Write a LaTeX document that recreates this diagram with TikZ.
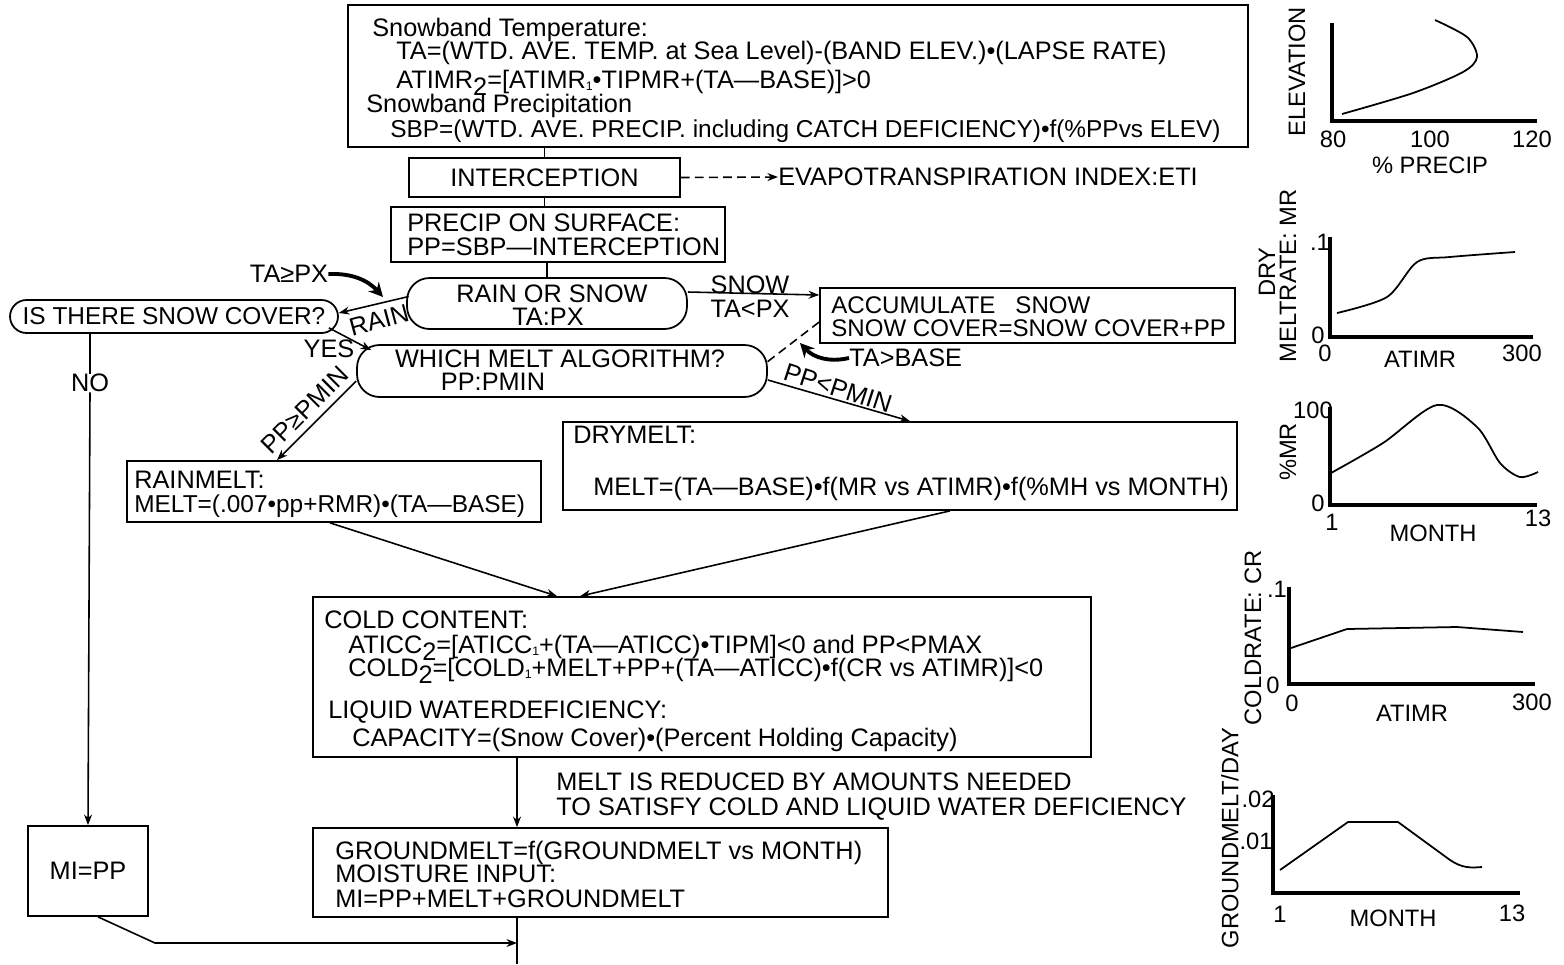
\documentclass[tikz,border=0pt]{standalone}
\usepackage{fontspec}
\setmainfont{Liberation Sans}
\usetikzlibrary{arrows.meta,calc}
\begin{document}
\begin{tikzpicture}[x=0.02cm,y=-0.02cm,
 font=\fontsize{14.4}{16}\selectfont,
 box/.style={draw,line width=1pt,inner sep=0pt},
 rbox/.style={box,rounded corners=0.45cm},
 txt/.style={anchor=base west,inner sep=0pt},
 ctxt/.style={anchor=base,inner sep=0pt},
 lbl/.style={inner sep=0pt},
 conn/.style={line width=0.9pt},
 arr/.style={conn,-{Stealth[length=6pt,width=4.5pt]}},
 fat/.style={line width=2.2pt,-{Stealth[length=8pt,width=8pt]}},
 axis/.style={line width=2.4pt},
 curve/.style={line width=1pt},
 lab/.style={inner sep=0pt,font=\fontsize{13.5}{15}\selectfont},
 smaller/.style={font=\fontsize{13.9}{16}\selectfont},
]
\useasboundingbox (0,0) rectangle (1564,964);

% ---------- boxes ----------
\node[box,minimum width=18cm,minimum height=2.84cm] (top) at (798,76) {};
\node[box,minimum width=5.42cm,minimum height=0.78cm] (int) at (544.5,177.5) {INTERCEPTION};
\node[box,minimum width=6.68cm,minimum height=1.1cm] (pr) at (558,234.5) {};
\node[rbox,minimum width=5.6cm,minimum height=1.02cm] (ros) at (547,303.5) {};
\node[rbox,smaller,rounded corners=0.33cm,minimum width=6.56cm,minimum height=0.66cm] (sc) at (174,316.5) {IS THERE SNOW COVER?};
\node[box,minimum width=8.3cm,minimum height=1.1cm] (acc) at (1027.5,315.5) {};
\node[rbox,minimum width=8.2cm,minimum height=1.04cm] (wm) at (562,371) {};
\node[box,minimum width=8.28cm,minimum height=1.22cm] (rm) at (334,491.5) {};
\node[box,minimum width=13.48cm,minimum height=1.76cm] (dm) at (900,466) {};
\node[box,minimum width=15.56cm,minimum height=3.2cm] (cold) at (702,677) {};
\node[box,minimum width=11.5cm,minimum height=1.78cm] (gm) at (600.5,872.5) {};
\node[box,minimum width=2.4cm,minimum height=1.8cm] (mi) at (88,871) {MI=PP};

% ---------- box texts ----------
\node[txt] (t1) at (372,36) {Snowband Temperature:};
\node[txt] (t2) at (396,59) {TA=(WTD. AVE. TEMP. at Sea Level)-(BAND ELEV.)•(LAPSE RATE)};
\node[txt] (t3) at (396,88) {ATIMR\raisebox{-0.55ex}{2}=[ATIMR\raisebox{-0.2ex}{\scriptsize 1}•TIPMR+(TA—BASE)]>0};
\node[txt] (t4) at (366,112) {Snowband Precipitation};
\node[txt,smaller] (t5) at (390,137) {SBP=(WTD. AVE. PRECIP. including CATCH DEFICIENCY)•f(\%PPvs ELEV)};

\node[anchor=west,inner sep=0pt] (eti) at (778,177) {EVAPOTRANSPIRATION INDEX:ETI};

\node[txt] (p1) at (407,231) {PRECIP ON SURFACE:};
\node[txt] (p2) at (407,255) {PP=SBP—INTERCEPTION};

\node[ctxt] (r1) at (552,302) {RAIN OR SNOW};
\node[ctxt] (r2) at (548,325) {TA:PX};

\node[txt,font=\fontsize{13.7}{16}\selectfont] (a1) at (831,313) {ACCUMULATE\ \ \ SNOW};
\node[txt,font=\fontsize{13.7}{16}\selectfont] (a2) at (831,336) {SNOW COVER=SNOW COVER+PP};

\node[ctxt] (w1) at (560,367) {WHICH MELT ALGORITHM?};
\node[ctxt] (w2) at (493,390) {PP:PMIN};

\node[txt] (rm1) at (134,488) {RAINMELT:};
\node[txt,smaller] (rm2) at (134,512) {MELT=(.007•pp+RMR)•(TA—BASE)};

\node[txt] (dm1) at (573,443) {DRYMELT:};
\node[txt] (dm2) at (593,495) {MELT=(TA—BASE)•f(MR vs ATIMR)•f(\%MH vs MONTH)};

\node[txt] (c1) at (324,628) {COLD CONTENT:};
\node[txt] (c2) at (348,653) {ATICC\raisebox{-0.55ex}{2}=[ATICC\raisebox{-0.2ex}{\scriptsize 1}+(TA—ATICC)•TIPM]<0 and PP<PMAX};
\node[txt] (c3) at (348,676) {COLD\raisebox{-0.55ex}{2}=[COLD\raisebox{-0.2ex}{\scriptsize 1}+MELT+PP+(TA—ATICC)•f(CR vs ATIMR)]<0};
\node[txt] (c4) at (328,718) {LIQUID WATERDEFICIENCY:};
\node[txt] (c5) at (352,746) {CAPACITY=(Snow Cover)•(Percent Holding Capacity)};

\node[txt] (n1) at (556,790) {MELT IS REDUCED BY AMOUNTS NEEDED};
\node[txt] (n2) at (556,815) {TO SATISFY COLD AND LIQUID WATER DEFICIENCY};

\node[txt] (g1) at (335,859) {GROUNDMELT=f(GROUNDMELT vs MONTH)};
\node[txt] (g2) at (335,882) {MOISTURE INPUT:};
\node[txt] (g3) at (335,907) {MI=PP+MELT+GROUNDMELT};

% ---------- connector labels ----------
\node[lbl] (snow) at (750,285) {SNOW};
\node[lbl] (talt) at (750,309) {TA<PX};
\node[lbl,rotate=15] (rain) at (379,320) {RAIN};
\node[lbl] (yes) at (329,349) {YES};
\node[lbl,rotate=45] (ppge) at (305,410) {PP≥PMIN};
\node[lbl,rotate=-18] (pplt) at (838,388) {PP<PMIN};
\node[lbl] (no) at (90,383) {NO};
\node[lbl] (tage) at (289,274) {TA≥PX};
\node[anchor=west,inner sep=0pt] (tab) at (849,358) {TA>BASE};

% ---------- helper coordinates ----------
\coordinate (vx) at (517,0);
\coordinate (bot) at (0,964);
\coordinate (mij) at (155,943);
\coordinate (tagetip) at (383,297);
\coordinate (tabtip) at (800,343);

% ---------- connectors ----------
\draw[conn] (int.north |- top.south) -- (int.north);
\draw[conn] (int.south) -- (int.south |- pr.north);
\draw[conn] (ros.north |- pr.south) -- (ros.north);
\draw[arr,dash pattern=on 5pt off 3pt] (int.east) -- (eti.west);
\draw[arr] ([yshift=0.23cm]ros.east) -- ([yshift=0.41cm]acc.west);
\draw[arr] ([xshift=0.05cm,yshift=0.14cm]ros.west) -- ([yshift=0.07cm]sc.east);
\draw[arr] ([xshift=-0.2cm,yshift=0.12cm]sc.south east) -- ([xshift=0.3cm,yshift=-0.12cm]wm.north west);
\draw[arr] ([yshift=-0.2cm]wm.west) -- ([xshift=-1.14cm]rm.north);
\draw[arr] ([yshift=-0.18cm]wm.east) -- ([xshift=0.2cm]dm.north);
\draw[conn,dash pattern=on 5pt off 3pt] ([yshift=-0.13cm]acc.west) -- ([xshift=-0.04cm,yshift=0.16cm]wm.east);
\draw[fat] (tage.east) to[bend left=25] (tagetip);
\draw[fat] (tab.west) to[bend left=30] (tabtip);
\draw[arr] ([xshift=-0.08cm]rm.south) -- ([xshift=-2.9cm]cold.north);
\draw[arr] ([xshift=1cm]dm.south) -- ([xshift=-2.44cm]cold.north);
\draw[arr] (cold.south -| vx) -- (gm.north -| vx);
\draw[conn] (gm.south -| vx) -- (vx |- bot);
\draw[conn] (sc.south -| no) -- (no.north);
\draw[arr] (no.south) -- (mi.north);
\draw[arr] ([xshift=0.2cm]mi.south) -- (mij) -- (mij -| vx);

% ---------- chart 1 ----------
\draw[axis] (1332,23) -- (1332,121) -- (1537,121);
\draw[curve] plot[smooth] coordinates {(1342,114) (1413,93) (1463,72) (1477,57) (1467,37) (1435,20)};
\node[lab] (c1a) at (1333,139) {80};
\node[lab] (c1b) at (1430,139) {100};
\node[lab] (c1c) at (1532,139) {120};
\node[lab] (c1x) at (1430,165) {\% PRECIP};
\node[lab,rotate=90] (c1y) at (1297,72) {ELEVATION};

% ---------- chart 2 ----------
\draw[axis] (1330,237) -- (1330,337) -- (1533,337);
\draw[curve] plot[smooth] coordinates {(1337,313) (1387,297) (1417,262) (1450,257) (1515,252)};
\node[lab] (c2a) at (1320,242) {.1};
\node[lab] (c2b) at (1318,335) {0};
\node[lab] (c2c) at (1325,353) {0};
\node[lab] (c2d) at (1522,353) {300};
\node[lab] (c2x) at (1420,359) {ATIMR};
\node[lab,rotate=90] (c2y1) at (1267,272) {DRY};
\node[lab,rotate=90] (c2y2) at (1288,276) {MELTRATE: MR};

% ---------- chart 3 ----------
\draw[axis] (1330,407) -- (1330,505) -- (1537,505);
\draw[curve] plot[smooth] coordinates {(1331,473) (1383,443) (1437,405) (1477,427) (1500,463) (1520,477) (1538,472)};
\node[lab] (c3a) at (1313,410) {100};
\node[lab] (c3b) at (1318,503) {0};
\node[lab] (c3c) at (1332,522) {1};
\node[lab] (c3d) at (1538,518) {13};
\node[lab] (c3x) at (1433,533) {MONTH};
\node[lab,rotate=90] (c3y) at (1288,452) {\%MR};

% ---------- chart 4 ----------
\draw[axis] (1289,587) -- (1289,684) -- (1535,684);
\draw[curve] (1291,648) -- (1347,629) -- (1457,627) -- (1523,632);
\node[lab] (c4a) at (1277,589) {.1};
\node[lab] (c4b) at (1273,685) {0};
\node[lab] (c4c) at (1292,703) {0};
\node[lab] (c4d) at (1532,702) {300};
\node[lab] (c4x) at (1412,713) {ATIMR};
\node[lab,rotate=90] (c4y) at (1253,638) {COLDRATE: CR};

% ---------- chart 5 ----------
\draw[axis] (1273,795) -- (1273,893) -- (1520,893);
\draw[curve] (1280,870) -- (1348,822) -- (1398,822) -- (1450,860) .. controls (1462,868) and (1470,868) .. (1482,867);
\node[lab] (c5a) at (1258,799) {.02};
\node[lab] (c5b) at (1256,841) {.01};
\node[lab] (c5c) at (1280,914) {1};
\node[lab] (c5d) at (1512,913) {13};
\node[lab] (c5x) at (1393,918) {MONTH};
\node[lab,rotate=90] (c5y) at (1230,838) {GROUNDMELT/DAY};
\end{tikzpicture}
\end{document}
